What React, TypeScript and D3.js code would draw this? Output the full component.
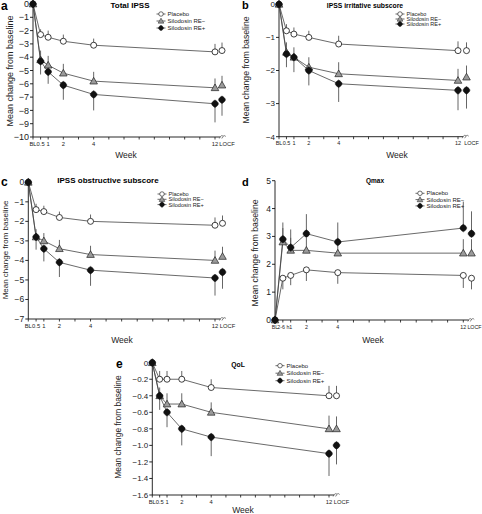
import React from "react";
import * as d3 from "d3";

const WEEKS = [0, 0.5, 1, 2, 4, 12];
const SERIES_NAMES = ["Placebo", "Silodosin RE−", "Silodosin RE+"];
const X_LABELS = ["BL", "0.5", "1", "2", "4", "12"];
const X_LABELS_D = ["BL", "2-6 h", "1", "2", "4", "12"];
const X_MINOR = [0, 0.5, 1, 2, 3, 4, 5, 6, 7, 8, 9, 10, 11, 12];

// values: BL, 0.5, 1, 2, 4, 12, LOCF ; error bar ends (null at BL)
const aPlacebo = [0, -2.3, -2.5, -2.8, -3.1, -3.6, -3.5];
const aPlaceboErr = [null, -1.9, -2.0, -2.3, -2.6, -3.0, -2.9];
const aREm = [0, -4.2, -4.6, -5.2, -5.8, -6.3, -6.1];
const aREmErr = [null, -3.5, -3.9, -4.5, -5.1, -5.6, -5.4];
const aREp = [0, -4.3, -5.1, -6.1, -6.8, -7.5, -7.2];
const aREpErr = [null, -5.3, -6.0, -7.2, -8.0, -8.9, -8.4];

const bPlacebo = [0, -0.8, -0.9, -1.0, -1.2, -1.4, -1.4];
const bPlaceboErr = [null, -0.6, -0.7, -0.8, -0.95, -1.12, -1.15];
const bREm = [0, -1.45, -1.6, -1.9, -2.1, -2.3, -2.2];
const bREmErr = [null, -1.15, -1.3, -1.6, -1.75, -1.95, -1.85];
const bREp = [0, -1.5, -1.6, -2.0, -2.4, -2.6, -2.6];
const bREpErr = [null, -1.9, -2.05, -2.45, -2.95, -3.2, -3.15];

const cPlacebo = [0, -1.4, -1.5, -1.8, -2.0, -2.2, -2.1];
const cPlaceboErr = [null, -1.1, -1.2, -1.5, -1.65, -1.8, -1.7];
const cREm = [0, -2.8, -3.0, -3.4, -3.7, -4.0, -3.8];
const cREmErr = [null, -2.4, -2.6, -2.95, -3.25, -3.5, -3.3];
const cREp = [0, -2.8, -3.4, -4.1, -4.5, -4.9, -4.6];
const cREpErr = [null, -3.45, -4.05, -4.85, -5.3, -5.8, -5.45];

const dPlacebo = [0, 1.5, 1.6, 1.8, 1.7, 1.6, 1.5];
const dPlaceboErr = [null, 1.1, 1.25, 1.4, 1.3, 1.15, 1.1];
const dREm = [0, 2.8, 2.5, 2.5, 2.4, 2.4, 2.4];
const dREmErr = [null, 3.3, 2.95, 2.95, 2.85, 2.9, 2.9];
const dREp = [0, 2.9, 2.6, 3.1, 2.8, 3.3, 3.1];
const dREpErr = [null, 3.5, 3.25, 3.8, 3.5, 4.25, 3.9];

const ePlacebo = [0, -0.2, -0.2, -0.2, -0.3, -0.4, -0.4];
const ePlaceboErr = [null, -0.1, -0.1, -0.1, -0.2, -0.28, -0.28];
const eREm = [0, -0.4, -0.5, -0.5, -0.6, -0.8, -0.8];
const eREmErr = [null, -0.3, -0.37, -0.37, -0.48, -0.64, -0.65];
const eREp = [0, -0.4, -0.6, -0.8, -0.9, -1.1, -1.0];
const eREpErr = [null, -0.57, -0.78, -1.0, -1.13, -1.37, -1.23];

const aYTicks = [0, -1, -2, -3, -4, -5, -6, -7, -8, -9, -10];
const bYTicks = [0, -1, -2, -3, -4];
const cYTicks = [0, -1, -2, -3, -4, -5, -6, -7];
const dYTicks = [0, 1, 2, 3, 4, 5];
const eYTicks = [0, -0.2, -0.4, -0.6, -0.8, -1.0, -1.2, -1.4, -1.6];

const FONT = "'Liberation Sans', Arial, Helvetica, sans-serif";

const fmtInt = (v: number) => (v < 0 ? "−" + Math.abs(v) : String(v));
const fmtDec = (v: number) => (v === 0 ? "0" : (v < 0 ? "−" : "") + Math.abs(v).toFixed(1));

function Marker({ kind, x, y }: { kind: number; x: number; y: number }) {
  if (kind === 0)
    return <circle cx={x} cy={y} r={3} fill="#fff" stroke="#111" strokeWidth={0.8} />;
  if (kind === 1) {
    const s = 3.8;
    return (
      <path
        d={`M${x},${y - s}L${x + s},${y + s * 0.75}L${x - s},${y + s * 0.75}Z`}
        fill="#9a9a9a"
        stroke="#222"
        strokeWidth={0.7}
      />
    );
  }
  const w = 3.4, h = 3.8;
  return (
    <path
      d={`M${x},${y - h}C${x + w * 0.7},${y - h * 0.6} ${x + w},${y - h * 0.3} ${x + w},${y}C${x + w},${y + h * 0.3} ${x + w * 0.7},${y + h * 0.6} ${x},${y + h}C${x - w * 0.7},${y + h * 0.6} ${x - w},${y + h * 0.3} ${x - w},${y}C${x - w},${y - h * 0.3} ${x - w * 0.7},${y - h * 0.6} ${x},${y - h}Z`}
      fill="#111"
      stroke="#111"
      strokeWidth={0.5}
    />
  );
}

type Cfg = {
  letter: string; letterSize: number; title: string; titleSize: number;
  x0: number; x12: number; locfX: number; locfLabelX: number;
  yTop: number; yBottom: number; yDomain: [number, number];
  yTicks: number[]; yFmt: (v: number) => string; yFont: number;
  xLabels: string[]; xFont: number;
  titleX: number; titleY: number;
  legendX: number; legendY: number; legendDy: number; legendFont: number;
  ylabelX: number; ylabelY: number; ylabelFont: number;
  weekX: number; weekY: number;
  letterX: number; letterY: number;
  vals: number[][]; errs: (number | null)[][];
};

function Panel({ c }: { c: Cfg }) {
  const x = d3.scaleLinear().domain([0, 12]).range([c.x0, c.x12]);
  const y = d3.scaleLinear().domain(c.yDomain).range([c.yBottom, c.yTop]);
  const line = d3.line<number>().x((_, i) => x(WEEKS[i])).y((v) => y(v));
  const breakX = x(12.35);
  const axisY = c.yBottom;
  return (
    <g fontFamily={FONT}>
      <text x={c.letterX} y={c.letterY} fontSize={c.letterSize} fontWeight="bold">{c.letter}</text>
      <text x={c.titleX} y={c.titleY} fontSize={c.titleSize} fontWeight="bold" textAnchor="middle">{c.title}</text>
      {/* y axis */}
      <line x1={c.x0} x2={c.x0} y1={c.yTop} y2={axisY} stroke="#111" strokeWidth={0.9} />
      {c.yTicks.map((t) => (
        <g key={t}>
          <line x1={c.x0 - 3} x2={c.x0} y1={y(t)} y2={y(t)} stroke="#111" strokeWidth={0.9} />
          <text x={c.x0 - 4} y={y(t)} dy="0.35em" fontSize={c.yFont} textAnchor="end" fill="#222">{c.yFmt(t)}</text>
        </g>
      ))}
      {/* x axis */}
      <line x1={c.x0} x2={breakX} y1={axisY} y2={axisY} stroke="#111" strokeWidth={0.9} />
      <path
        d={`M${breakX - 1},${axisY + 1.5}Q${breakX + 1},${axisY - 3} ${breakX + 3},${axisY - 0.5}M${breakX + 1.5},${axisY + 1.5}Q${breakX + 3.5},${axisY - 3} ${breakX + 5.5},${axisY - 0.5}`}
        fill="none" stroke="#333" strokeWidth={0.6}
      />
      {X_MINOR.map((w) => (
        <line key={w} x1={x(w)} x2={x(w)} y1={axisY} y2={axisY + 2.5} stroke="#111" strokeWidth={0.8} />
      ))}
      {WEEKS.map((w, i) => (
        <text key={w} x={x(w) + (i === 1 && c.xLabels[i].length > 3 ? 0.5 : 0)} y={axisY + 8.5} fontSize={c.xFont} textAnchor="middle" fill="#222">{c.xLabels[i]}</text>
      ))}
      <text x={c.locfLabelX} y={axisY + 8.5} fontSize={c.xFont} textAnchor="middle" fill="#222">LOCF</text>
      <text x={c.weekX} y={c.weekY} fontSize={8.5} textAnchor="middle" fill="#222">Week</text>
      <text transform={`translate(${c.ylabelX},${c.ylabelY}) rotate(-90)`} fontSize={c.ylabelFont} textAnchor="middle" fill="#222">Mean change from baseline</text>
      {/* lines */}
      {c.vals.map((v, s) => (
        <path key={"l" + s} d={line(v.slice(0, 6)) || ""} fill="none" stroke="#444" strokeWidth={0.8} />
      ))}
      {/* error bars */}
      {c.vals.map((v, s) =>
        v.map((val, i) => {
          const e = c.errs[s][i];
          if (e === null) return null;
          const px = i < 6 ? x(WEEKS[i]) : c.locfX;
          return <line key={"e" + s + "-" + i} x1={px} x2={px} y1={y(val)} y2={y(e)} stroke="#555" strokeWidth={0.9} />;
        })
      )}
      {/* markers */}
      {c.vals.map((v, s) =>
        v.map((val, i) => {
          const px = i < 6 ? x(WEEKS[i]) : c.locfX;
          return <Marker key={"m" + s + "-" + i} kind={s} x={px} y={y(val)} />;
        })
      )}
      {/* legend */}
      {SERIES_NAMES.map((n, s) => {
        const ly = c.legendY + s * c.legendDy;
        return (
          <g key={n}>
            <line x1={c.legendX - 4.5} x2={c.legendX + 4.5} y1={ly} y2={ly} stroke="#444" strokeWidth={0.8} />
            <g transform={`translate(${c.legendX},${ly}) scale(0.75) translate(${-c.legendX},${-ly})`}>
              <Marker kind={s} x={c.legendX} y={ly} />
            </g>
            <text x={c.legendX + 6.5} y={ly} dy="0.35em" fontSize={c.legendFont} fill="#222">{n}</text>
          </g>
        );
      })}
    </g>
  );
}

const panels: Cfg[] = [
  {
    letter: "a", letterSize: 12, title: "Total IPSS", titleSize: 8, x0: 33, x12: 215, locfX: 222, locfLabelX: 227,
    yTop: 4, yBottom: 137, yDomain: [-10, 0], yTicks: aYTicks, yFmt: fmtInt, yFont: 9,
    xLabels: X_LABELS, xFont: 5.8, titleX: 130, titleY: 8, legendX: 161, legendY: 14, legendDy: 7, legendFont: 6,
    ylabelX: 12.5, ylabelY: 71, ylabelFont: 9, weekX: 126, weekY: 158, letterX: 1, letterY: 10,
    vals: [aPlacebo, aREm, aREp], errs: [aPlaceboErr, aREmErr, aREpErr],
  },
  {
    letter: "b", letterSize: 11, title: "IPSS irritative subscore", titleSize: 6.8, x0: 279, x12: 458, locfX: 466.5, locfLabelX: 471.5,
    yTop: 4.3, yBottom: 136.7, yDomain: [-4, 0], yTicks: bYTicks, yFmt: fmtInt, yFont: 8,
    xLabels: X_LABELS, xFont: 5.5, titleX: 365, titleY: 7.5, legendX: 400, legendY: 14, legendDy: 5, legendFont: 5.5,
    ylabelX: 249, ylabelY: 70, ylabelFont: 8.7, weekX: 397, weekY: 158, letterX: 242, letterY: 9,
    vals: [bPlacebo, bREm, bREp], errs: [bPlaceboErr, bREmErr, bREpErr],
  },
  {
    letter: "c", letterSize: 12, title: "IPSS obstructive subscore", titleSize: 8, x0: 28.3, x12: 215, locfX: 222.5, locfLabelX: 227.5,
    yTop: 182.3, yBottom: 319, yDomain: [-7, 0], yTicks: cYTicks, yFmt: fmtInt, yFont: 8.5,
    xLabels: X_LABELS, xFont: 5.8, titleX: 108, titleY: 183, legendX: 162, legendY: 194, legendDy: 5.3, legendFont: 5.6,
    ylabelX: 8, ylabelY: 250, ylabelFont: 8, weekX: 122, weekY: 343, letterX: 1, letterY: 186,
    vals: [cPlacebo, cREm, cREp], errs: [cPlaceboErr, cREmErr, cREpErr],
  },
  {
    letter: "d", letterSize: 11, title: "Qmax", titleSize: 6.5, x0: 275, x12: 463.3, locfX: 471.5, locfLabelX: 474.5,
    yTop: 180.7, yBottom: 320, yDomain: [0, 5], yTicks: dYTicks, yFmt: fmtInt, yFont: 8.5,
    xLabels: X_LABELS_D, xFont: 5.3, titleX: 375, titleY: 182.5, legendX: 420, legendY: 193.3, legendDy: 6.3, legendFont: 6,
    ylabelX: 258, ylabelY: 253, ylabelFont: 8.7, weekX: 373, weekY: 343, letterX: 242, letterY: 186,
    vals: [dPlacebo, dREm, dREp], errs: [dPlaceboErr, dREmErr, dREpErr],
  },
  {
    letter: "e", letterSize: 12, title: "QoL", titleSize: 6.8, x0: 152.3, x12: 329, locfX: 336.5, locfLabelX: 341.5,
    yTop: 362.7, yBottom: 495, yDomain: [-1.6, 0], yTicks: eYTicks, yFmt: fmtDec, yFont: 8,
    xLabels: X_LABELS, xFont: 5.8, titleX: 238, titleY: 366.5, legendX: 280, legendY: 365.7, legendDy: 7.5, legendFont: 6,
    ylabelX: 121, ylabelY: 427, ylabelFont: 8.4, weekX: 243, weekY: 513, letterX: 116, letterY: 368,
    vals: [ePlacebo, eREm, eREp], errs: [ePlaceboErr, eREmErr, eREpErr],
  },
];

export default function App() {
  return (
    <svg width={482} height={514} style={{ position: "absolute", left: 0, top: 0, background: "#fff" }}>
      <rect width={482} height={514} fill="#fff" />
      {panels.map((p) => (
        <Panel key={p.letter} c={p} />
      ))}
    </svg>
  );
}
